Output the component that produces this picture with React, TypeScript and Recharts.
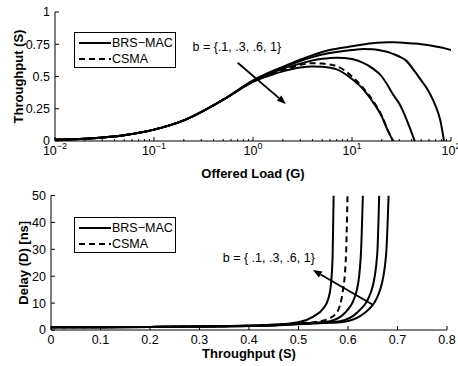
import React from 'react';
import { LineChart, Line, XAxis, YAxis, ReferenceLine, ReferenceDot, Legend } from 'recharts';

const FONT = '"Liberation Sans", Arial, Helvetica, sans-serif';

// ---- top panel: throughput S vs offered load G (log x) ----
const offeredLoad = [0.01, 0.02, 0.05, 0.1, 0.2, 0.5, 1, 1.5, 2, 3, 4, 5, 7, 10, 13, 16, 20, 23, 26, 30, 35, 43, 50, 60, 70, 78, 85, 100];
const sB01 = [0.009, 0.018, 0.045, 0.088, 0.16, 0.32, 0.46, 0.51, 0.54, 0.57, 0.578, 0.575, 0.555, 0.48, 0.4, 0.31, 0.19, 0.08, 0, null, null, null, null, null, null, null, null, null];
const sCsma = [0.009, 0.018, 0.045, 0.088, 0.16, 0.32, 0.46, 0.52, 0.55, 0.59, 0.603, 0.6, 0.58, 0.5, 0.41, 0.32, 0.195, 0.085, 0, null, null, null, null, null, null, null, null, null];
const sB03 = [0.009, 0.018, 0.045, 0.088, 0.16, 0.32, 0.46, 0.525, 0.56, 0.6, 0.625, 0.637, 0.646, 0.635, 0.605, 0.565, 0.5, 0.43, 0.36, 0.29, 0.18, 0, null, null, null, null, null, null];
const sB06 = [0.009, 0.018, 0.045, 0.088, 0.16, 0.32, 0.465, 0.53, 0.57, 0.62, 0.65, 0.67, 0.69, 0.705, 0.713, 0.712, 0.7, 0.69, 0.675, 0.655, 0.625, 0.54, 0.47, 0.38, 0.27, 0.16, 0, null];
const sB1 = [0.009, 0.018, 0.045, 0.088, 0.16, 0.32, 0.47, 0.535, 0.575, 0.63, 0.665, 0.69, 0.715, 0.735, 0.748, 0.757, 0.763, 0.765, 0.765, 0.764, 0.76, 0.755, 0.75, 0.742, 0.733, 0.726, 0.72, 0.705];

const loadDecades = [0.01, 0.1, 1, 10, 100];
const throughputTicks = [0, 0.25, 0.5, 0.75, 1];

// ---- bottom panel: delay D vs throughput S ----
const dThrB01 = [0, 0.1, 0.2, 0.3, 0.4, 0.45, 0.5, 0.53, 0.55, 0.56, 0.565, 0.569, 0.571];
const dB01 = [1.0, 1.05, 1.15, 1.3, 1.65, 2.0, 2.9, 5, 8, 11.5, 16, 28, 50];
const dThrCsma = [0, 0.1, 0.2, 0.3, 0.4, 0.45, 0.5, 0.54, 0.557, 0.577, 0.59, 0.596, 0.599];
const dCsma = [1.0, 1.05, 1.15, 1.3, 1.6, 1.9, 2.5, 3.2, 3.9, 6.4, 15, 28, 50];
const dThrB03 = [0, 0.1, 0.2, 0.3, 0.4, 0.45, 0.5, 0.54, 0.564, 0.594, 0.618, 0.626, 0.63];
const dB03 = [1.0, 1.05, 1.15, 1.3, 1.55, 1.8, 2.3, 2.8, 3.3, 6.4, 15, 28, 50];
const dThrB06 = [0, 0.1, 0.2, 0.3, 0.4, 0.45, 0.5, 0.55, 0.584, 0.618, 0.648, 0.659, 0.663];
const dB06 = [1.0, 1.05, 1.15, 1.28, 1.5, 1.75, 2.2, 2.8, 3.3, 6.4, 15, 28, 50];
const dThrB1 = [0, 0.1, 0.2, 0.3, 0.4, 0.45, 0.5, 0.55, 0.59, 0.634, 0.665, 0.677, 0.682];
const dB1 = [1.0, 1.05, 1.15, 1.28, 1.5, 1.7, 2.1, 2.6, 3.0, 6.4, 15, 28, 50];

const thrTicks = [0, 0.1, 0.2, 0.3, 0.4, 0.5, 0.6, 0.7, 0.8];
const delayTicks = [0, 10, 20, 30, 40, 50];

// annotations (data coordinates)
const topNote = { text: 'b = {.1, .3, .6, 1}', g: 0.245, s: 0.7 };
const topArrow = [{ x: 0.7, y: 0.607 }, { x: 2.15, y: 0.287 }];
const botNote = { text: 'b = { .1, .3, .6, 1}', s: 0.347, d: 25.4 };
const botArrow = [{ x: 0.651, y: 9.3 }, { x: 0.529, y: 22.3 }];

const topData = offeredLoad.map((g, i) => ({ g, b01: sB01[i], csma: sCsma[i], b03: sB03[i], b06: sB06[i], b1: sB1[i] }));
const pairs = (xs: number[], ys: number[]) => xs.map((s, i) => ({ s, d: ys[i] }));
const delaySeries = [
  { key: 'b01', name: 'BRS−MAC', data: pairs(dThrB01, dB01), dashed: false, legend: true },
  { key: 'csma', name: 'CSMA', data: pairs(dThrCsma, dCsma), dashed: true, legend: true },
  { key: 'b03', name: 'b03', data: pairs(dThrB03, dB03), dashed: false, legend: false },
  { key: 'b06', name: 'b06', data: pairs(dThrB06, dB06), dashed: false, legend: false },
  { key: 'b1', name: 'b1', data: pairs(dThrB1, dB1), dashed: false, legend: false },
];

const logTicks = loadDecades
  .slice(0, -1)
  .flatMap((d) => [1, 2, 3, 4, 5, 6, 7, 8, 9].map((m) => +(d * m).toPrecision(3)))
  .concat(100);
const isDecade = (v: number) => loadDecades.includes(v);

type Side = 'bottom' | 'top' | 'left' | 'right';

function makeTick(side: Side, label?: (v: number) => React.ReactNode, major: (v: number) => boolean = () => true) {
  return (props: any) => {
    const { x, y, payload } = props;
    const v = payload.value as number;
    const big = major(v);
    const len = big ? 4 : 2;
    let l = { x1: x, y1: y, x2: x, y2: y };
    if (side === 'bottom') l.y2 = y - len;
    if (side === 'top') l.y2 = y + len;
    if (side === 'left') l.x2 = x + len;
    if (side === 'right') l.x2 = x - len;
    const txt = label && big ? label(v) : null;
    return (
      <g>
        <line {...l} stroke="#000" strokeWidth={1} />
        {txt != null && side === 'bottom' && (
          <text x={x} y={y + 14} textAnchor="middle" fontSize={12.5} fontFamily={FONT} fill="#000">{txt}</text>
        )}
        {txt != null && side === 'left' && (
          <text x={x - 5} y={y + 4.4} textAnchor="end" fontSize={12.5} fontFamily={FONT} fill="#000">{txt}</text>
        )}
      </g>
    );
  };
}

const powLabel = (v: number) => {
  const e = Math.round(Math.log10(v));
  return (
    <>
      10<tspan dy={-6} fontSize={9}>{e < 0 ? '−' + Math.abs(e) : String(e)}</tspan>
    </>
  );
};

const xTitle = (text: string, dy: number) => (props: any) => {
  const vb = props.viewBox || {};
  return (
    <text x={vb.x + vb.width / 2} y={vb.y + dy} textAnchor="middle" fontSize={13} fontWeight="bold" fontFamily={FONT} fill="#000">
      {text}
    </text>
  );
};

const yTitle = (text: string, bx: number) => (props: any) => {
  const vb = props.viewBox || {};
  const cy = vb.y + vb.height / 2;
  return (
    <text x={bx} y={cy} transform={`rotate(-90, ${bx}, ${cy})`} textAnchor="middle" fontSize={13} fontWeight="bold" fontFamily={FONT} fill="#000">
      {text}
    </text>
  );
};

function arrowShape(props: any) {
  const { x1, y1, x2, y2 } = props;
  const a = Math.atan2(y2 - y1, x2 - x1);
  const L = 9;
  const W = 3.5;
  const bx = x2 - L * Math.cos(a);
  const by = y2 - L * Math.sin(a);
  const px = -Math.sin(a) * W;
  const py = Math.cos(a) * W;
  return (
    <g>
      <line x1={x1} y1={y1} x2={bx} y2={by} stroke="#000" strokeWidth={1.8} />
      <polygon points={`${x2},${y2} ${bx + px},${by + py} ${bx - px},${by - py}`} fill="#000" />
    </g>
  );
}

const noteShape = (text: string) => (props: any) => (
  <text x={props.cx} y={props.cy} fontSize={12.5} fontFamily={FONT} fill="#000">{text}</text>
);

function LegendBox(props: any) {
  const items = (props.payload || []).filter((p: any) => p.type !== 'none');
  return (
    <div style={{ border: '1px solid #000', background: '#fff', width: 102, boxSizing: 'border-box', padding: '2px 0 0 3px', fontFamily: FONT, fontSize: 12.5, lineHeight: '16px', color: '#000' }}>
      {items.map((p: any) => (
        <div key={p.value} style={{ display: 'flex', alignItems: 'center', whiteSpace: 'nowrap' }}>
          <svg width={34} height={10}>
            <line x1={1} y1={5} x2={33} y2={5} stroke="#000" strokeWidth={2} strokeDasharray={p.payload?.strokeDasharray} />
          </svg>
          <span>{p.value}</span>
        </div>
      ))}
    </div>
  );
}

function ThroughputPanel() {
  const line = (key: string, name: string, dashed = false, legend = false) => (
    <Line
      key={key}
      type="monotone"
      dataKey={key}
      name={name}
      stroke="#000"
      strokeWidth={2}
      strokeDasharray={dashed ? '6 4' : undefined}
      dot={false}
      legendType={legend ? 'line' : 'none'}
      isAnimationActive={false}
    />
  );
  return (
    <LineChart width={458} height={183} data={topData} margin={{ top: 12, right: 7, left: 0, bottom: 0 }}>
      <XAxis dataKey="g" type="number" scale="log" domain={[0.01, 100]} ticks={logTicks} interval={0} allowDataOverflow
        height={42} tickSize={0} tickMargin={0} tickLine={false} axisLine={{ stroke: '#000' }}
        tick={makeTick('bottom', powLabel, isDecade)} label={{ content: xTitle('Offered Load (G)', 37) }} />
      <XAxis xAxisId="top" orientation="top" type="number" scale="log" domain={[0.01, 100]} ticks={logTicks} interval={0} allowDataOverflow
        height={0} tickSize={0} tickMargin={0} tickLine={false} axisLine={{ stroke: '#000' }} tick={makeTick('top', undefined, isDecade)} />
      <YAxis type="number" domain={[0, 1]} ticks={throughputTicks} interval={0} allowDataOverflow width={55}
        tickSize={0} tickMargin={0} tickLine={false} axisLine={{ stroke: '#000' }}
        tick={makeTick('left', (v) => String(v))} label={{ content: yTitle('Throughput (S)', 23) }} />
      <YAxis yAxisId="right" orientation="right" type="number" domain={[0, 1]} ticks={throughputTicks} interval={0} allowDataOverflow width={0}
        tickSize={0} tickMargin={0} tickLine={false} axisLine={{ stroke: '#000' }} tick={makeTick('right')} />
      {line('b01', 'BRS−MAC', false, true)}
      {line('csma', 'CSMA', true, true)}
      {line('b03', 'b03')}
      {line('b06', 'b06')}
      {line('b1', 'b1')}
      <ReferenceLine segment={topArrow} shape={arrowShape} ifOverflow="visible" />
      <ReferenceDot x={topNote.g} y={topNote.s} r={0} shape={noteShape(topNote.text)} ifOverflow="visible" />
      <Legend layout="vertical" align="center" verticalAlign="middle" content={LegendBox}
        wrapperStyle={{ left: 74, top: 32, width: 'auto', height: 'auto' }} />
    </LineChart>
  );
}

function DelayPanel() {
  return (
    <LineChart width={458} height={183} margin={{ top: 12.5, right: 11, left: 0, bottom: 0 }}>
      <XAxis dataKey="s" type="number" domain={[0, 0.8]} ticks={thrTicks} interval={0} allowDataOverflow
        height={36} tickSize={0} tickMargin={0} tickLine={false} axisLine={{ stroke: '#000' }}
        tick={makeTick('bottom', (v) => String(v))} label={{ content: xTitle('Throughput (S)', 28) }} />
      <XAxis xAxisId="top" orientation="top" type="number" domain={[0, 0.8]} ticks={thrTicks} interval={0} allowDataOverflow
        height={0} tickSize={0} tickMargin={0} tickLine={false} axisLine={{ stroke: '#000' }} tick={makeTick('top')} />
      <YAxis type="number" domain={[0, 50]} ticks={delayTicks} interval={0} allowDataOverflow width={51}
        tickSize={0} tickMargin={0} tickLine={false} axisLine={{ stroke: '#000' }}
        tick={makeTick('left', (v) => String(v))} label={{ content: yTitle('Delay (D) [ns]', 27.5) }} />
      <YAxis yAxisId="right" orientation="right" type="number" domain={[0, 50]} ticks={delayTicks} interval={0} allowDataOverflow width={0}
        tickSize={0} tickMargin={0} tickLine={false} axisLine={{ stroke: '#000' }} tick={makeTick('right')} />
      {delaySeries.map((s) => (
        <Line
          key={s.key}
          data={s.data}
          type="monotone"
          dataKey="d"
          name={s.name}
          stroke="#000"
          strokeWidth={2}
          strokeDasharray={s.dashed ? '6 4' : undefined}
          dot={false}
          legendType={s.legend ? 'line' : 'none'}
          isAnimationActive={false}
        />
      ))}
      <ReferenceLine segment={botArrow} shape={arrowShape} ifOverflow="visible" />
      <ReferenceDot x={botNote.s} y={botNote.d} r={0} shape={noteShape(botNote.text)} ifOverflow="visible" />
      <Legend layout="vertical" align="center" verticalAlign="middle" content={LegendBox}
        wrapperStyle={{ left: 74, top: 34, width: 'auto', height: 'auto' }} />
    </LineChart>
  );
}

export default function App() {
  return (
    <div style={{ position: 'absolute', left: 0, top: 0, width: 458, height: 366, background: '#fff', fontFamily: FONT }}>
      <div style={{ position: 'absolute', left: 0, top: 0 }}>
        <ThroughputPanel />
      </div>
      <div style={{ position: 'absolute', left: 0, top: 183 }}>
        <DelayPanel />
      </div>
    </div>
  );
}
